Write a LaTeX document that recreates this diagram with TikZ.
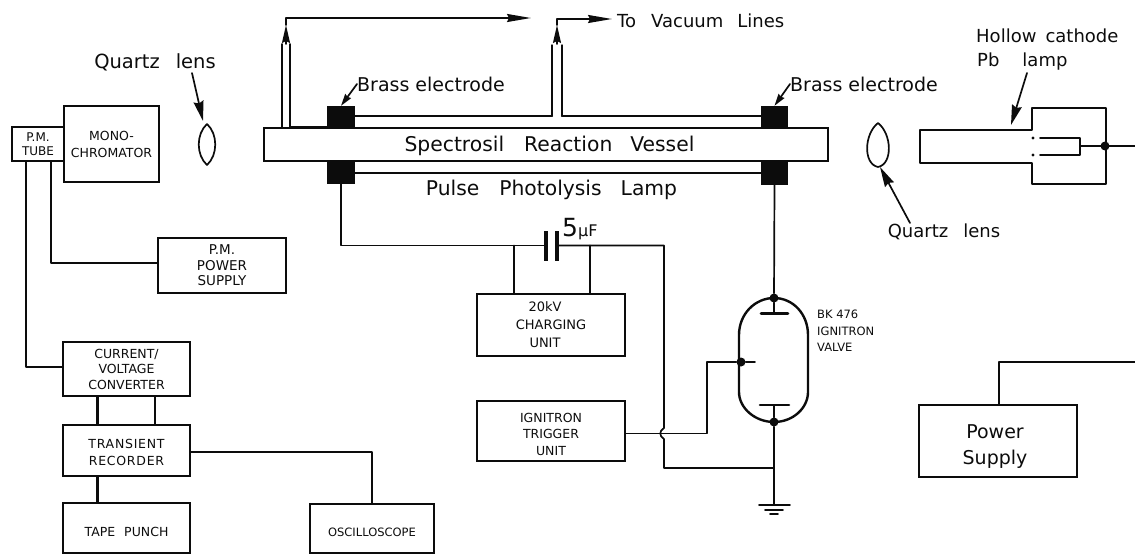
\documentclass[tikz,border=0pt]{standalone}
\usepackage{fontspec}
\setmainfont{DejaVu Sans}
\newfontfamily\wide[LetterSpace=6]{DejaVu Sans}
\usetikzlibrary{arrows.meta}
\definecolor{ink}{HTML}{0C0C0C}
\newcommand{\nudge}[2]{\raisebox{-#1}[\height][\depth]{#2}}
\tikzset{
  wire/.style={draw=ink,line width=1.7pt,line cap=round,line join=round},
  thick wire/.style={draw=ink,line width=3pt},
  unit/.style={draw=ink,line width=2.4pt,inner sep=0pt,align=center,text=ink,font=\fontsize{12}{15.5}\selectfont},
  electrode/.style={fill=ink,draw=none,inner sep=0pt},
  label/.style={inner sep=0pt,text=ink,font=\fontsize{18}{24}\selectfont,align=left},
  flow/.style={wire,-{Stealth[length=24pt,width=8pt,inset=2pt]}},
  rise/.style={wire,-{Stealth[length=18pt,width=8pt,inset=2pt]}},
  pointer/.style={wire,-{Stealth[length=20pt,width=10pt,inset=2pt]}},
  dot/.style={circle,fill=ink,inner sep=0pt,minimum size=9pt},
}
\begin{document}
\begin{tikzpicture}[x=1pt,y=-1pt]
\useasboundingbox (0,0) rectangle (1135,554);
% --- vessel and electrodes
\node[unit,minimum width=564pt,minimum height=33pt,font=\fontsize{20.3}{22}\selectfont] (vessel) at (546,144.5) {\nudge{1pt}{Spectrosil\hspace{20pt}Reaction\hspace{18pt}Vessel}\hspace*{-7pt}};
\node[electrode,minimum width=28pt,minimum height=22pt] (elTL) at (341,117) {};
\node[electrode,minimum width=28pt,minimum height=23pt] (elBL) at (341,172.5) {};
\node[electrode,minimum width=27pt,minimum height=22pt] (elTR) at (774.5,117) {};
\node[electrode,minimum width=27pt,minimum height=24pt] (elBR) at (774.5,173) {};
% --- lamp lines
\coordinate (tubeL) at (552,116);
\coordinate (tubeR) at (562,116);
\coordinate (tubeLtop) at (552,45);
\coordinate (tubeRtop) at (562,45);
\coordinate (lampLow) at (341,173);
\draw[wire,line width=2.2pt] (elTL.east |- tubeL) -- (tubeL);
\draw[wire,line width=2.2pt] (elTR.west |- tubeR) -- (tubeR);
\draw[wire,line width=1.4pt] (tubeL) -- (tubeLtop);
\draw[wire,line width=1.4pt] (tubeR) -- (tubeRtop);
\draw[wire,line width=2.2pt] (elBL.east |- lampLow) -- (elBR.west |- lampLow);
% --- left pump tube
\coordinate (ltL) at (282,127);
\coordinate (ltLtop) at (282,44);
\coordinate (ltR) at (290,127);
\coordinate (ltRtop) at (290,44);
\draw[wire] (ltL) -- (ltLtop);
\draw[wire] (ltR) -- (ltRtop);
\draw[wire] (ltR) -- (elTL.west |- ltR);
% --- vacuum arrows
\coordinate (a1s) at (286,44);
\coordinate (a1t) at (286,25);
\coordinate (a1c) at (286,18);
\coordinate (a1e) at (531,18);
\draw[rise] (a1s) -- (a1t);
\draw[flow] (a1t) -- (a1c) -- (a1e);
\coordinate (a2s) at (557,44);
\coordinate (a2t) at (557,25);
\coordinate (a2c) at (557,19);
\coordinate (a2e) at (612,19);
\draw[rise] (a2s) -- (a2t);
\draw[flow] (a2t) -- (a2c) -- (a2e);
\node[label,anchor=west] (vac) at (617,21) {To\hspace{15pt}Vacuum\hspace{14pt}Lines};
% --- electrode labels
\node[label,anchor=west,font=\fontsize{19}{24}\selectfont] (brassL) at (357,84) {Brass\hspace{6pt}electrode};
\node[label,anchor=west,font=\fontsize{19}{24}\selectfont] (brassR) at (790,84) {Brass\hspace{6pt}electrode};
\draw[wire,-{Stealth[length=12pt,width=7pt,inset=1pt]}] (brassL.west) -- (elTL.north);
\draw[wire,-{Stealth[length=12pt,width=7pt,inset=1pt]}] (brassR.west) -- (elTR.north);
\node[label,font=\fontsize{20.3}{24}\selectfont] (lampL) at (551.5,190) {Pulse\hspace{20pt}Photolysis\hspace{19pt}Lamp};
% --- left lens
\coordinate (lensAt) at (207,124);
\coordinate (lensAb) at (207,165);
\draw[wire] (lensAt) .. controls (196,134) and (196,155) .. (lensAb) .. controls (218,155) and (218,134) .. (lensAt);
\node[label,font=\fontsize{19.5}{24}\selectfont] (qlA) at (155,62) {Quartz\hspace{16pt}lens};
\coordinate (qlAs) at (192,73);
\draw[pointer] (qlAs) -- (203,121);
% --- right lens
\coordinate (lensBt) at (878,123);
\coordinate (lensBb) at (878,167);
\draw[wire] (lensBt) .. controls (864,134) and (863,164) .. (lensBb) .. controls (893,164) and (892,134) .. (lensBt);
\node[label] (qlB) at (944,232) {Quartz\hspace{15pt}lens};
\coordinate (qlBs) at (910,223);
\draw[pointer] (qlBs) -- (880,167);
% --- hollow cathode lamp
\draw[wire,line width=2.2pt] (1032,108) -- (1032,130) -- (920,130) -- (920,163) -- (1032,163) -- (1032,184) -- (1106,184) -- (1106,108) -- cycle;
\fill[ink] (1033,138) circle (1.6pt) (1033,155) circle (1.6pt);
\coordinate (cathode) at (1080,146);
\coordinate (lampPin) at (1105,146);
\coordinate (lampOut) at (1135,146);
\draw[wire] (1040,138) -- (1080,138) -- (1080,155) -- (1040,155);
\draw[wire] (cathode) -- (lampPin) -- (lampOut);
\node[dot] (pin) at (lampPin) {};
\node[label,anchor=west] (hollow) at (976,36) {Hollow\hspace{9pt}cathode};
\node[label,anchor=west] (pb) at (977,62) {Pb\hspace{23pt}lamp};
\coordinate (hcs) at (1027,73);
\draw[pointer] (hcs) -- (1011,125);
% --- power supply
\node[unit,minimum width=158pt,minimum height=72pt,line width=2.8pt,font=\fontsize{19}{26}\selectfont] (power) at (998,441) {\nudge{6pt}{Power}\hspace*{6pt}\\\nudge{6pt}{Supply}\hspace*{6pt}};
\coordinate (pwC) at (999,362);
\coordinate (pwE) at (1135,362);
\draw[wire] (power.north -| pwC) -- (pwC) -- (pwE);
% --- detection chain
\node[unit,minimum width=95pt,minimum height=76pt,line width=2pt,font=\fontsize{12.5}{17}\selectfont] (mono) at (111.5,144) {MONO-\\CHROMATOR};
\node[unit,minimum width=52pt,minimum height=34pt,fill=white,font=\fontsize{12}{13.5}\selectfont] (pm) at (38,144) {P.M.\\TUBE};
\node[unit,minimum width=128pt,minimum height=55pt,line width=2.8pt,font=\fontsize{13.5}{15.5}\selectfont] (pmps) at (222,265.5) {P.M.\\POWER\\SUPPLY};
\node[unit,minimum width=127pt,minimum height=54pt,line width=2.8pt,font=\fontsize{12.5}{15.5}\selectfont] (conv) at (126.5,369) {CURRENT/\\VOLTAGE\\CONVERTER};
\node[unit,minimum width=127pt,minimum height=51pt,line width=2.8pt,font=\wide\fontsize{12.5}{17}\selectfont] (trans) at (126.5,450.5) {\nudge{2pt}{TRANSIENT}\\\nudge{2pt}{RECORDER}};
\node[unit,minimum width=127pt,minimum height=50pt,line width=2.4pt,font=\fontsize{12.5}{15}\selectfont] (tape) at (126.5,528) {\nudge{4pt}{TAPE\hspace{9pt}PUNCH}};
\node[unit,minimum width=124pt,minimum height=49pt,line width=2.6pt,font=\fontsize{11.5}{13}\selectfont] (osc) at (372,528.5) {\nudge{4pt}{OSCILLOSCOPE}};
\coordinate (pmA) at (26,367);
\coordinate (pmB) at (51,263);
\draw[wire] (pm.south -| pmA) -- (pmA) -- (conv.west |- pmA);
\draw[wire] (pm.south -| pmB) -- (pmB) -- (pmps.west |- pmB);
\coordinate (cvA) at (97,400);
\coordinate (cvB) at (155,400);
\draw[thick wire] (conv.south -| cvA) -- (trans.north -| cvA);
\draw[wire] (conv.south -| cvB) -- (trans.north -| cvB);
\draw[thick wire] (trans.south -| cvA) -- (tape.north -| cvA);
\coordinate (oscBend) at (372,452);
\draw[wire] (trans.east |- oscBend) -- (oscBend) -- (osc.north);
% --- capacitor and pulse circuit
\coordinate (capL) at (546,245.5);
\coordinate (capR) at (557,245.5);
\coordinate (capE) at (664,245.5);
\coordinate (wireBend) at (341,245.5);
\draw[wire] (elBL.south -| wireBend) -- (wireBend) -- (capL);
\draw[line width=3.4pt,draw=ink] (546,231) -- (546,261);
\draw[line width=3.4pt,draw=ink] (557,231) -- (557,261);
\node[inner sep=0pt,text=ink,anchor=base west] (cap) at (562,236) {\fontsize{25}{25}\selectfont 5\fontsize{16}{16}\selectfont µF};
\node[unit,minimum width=148pt,minimum height=62pt,font=\fontsize{13}{18}\selectfont] (charge) at (551,325) {20kV\hspace*{12pt}\\CHARGING\hspace*{10pt}\\UNIT\hspace*{12pt}};
\node[unit,minimum width=148pt,minimum height=60pt,font=\fontsize{12.5}{16.5}\selectfont] (trig) at (551,431) {\nudge{3pt}{IGNITRON}\\\nudge{3pt}{TRIGGER}\\\nudge{3pt}{UNIT}};
\coordinate (chA) at (514,245.5);
\coordinate (chB) at (590,245.5);
\draw[wire] (chA) -- (charge.north -| chA);
\draw[wire] (chB) -- (charge.north -| chB);
\coordinate (jumpA) at (664,428);
\coordinate (jumpB) at (664,439);
\coordinate (retBend) at (664,468);
\coordinate (gndT) at (774,468);
\draw[wire] (capR) -- (capE) -- (jumpA) .. controls (659,431) and (659,436) .. (jumpB) -- (retBend) -- (gndT);
% --- ignitron
\coordinate (vTop) at (774,298);
\coordinate (vBot) at (774,422);
\coordinate (vGrid) at (741,362);
\draw[wire,line width=2.4pt] (vTop) .. controls (793,298) and (808,314) .. (808,335) -- (808,392) .. controls (808,408) and (793,422) .. (vBot) .. controls (755,422) and (739,408) .. (739,392) -- (739,335) .. controls (739,314) and (755,298) .. (vTop);
\node[dot] (dTop) at (vTop) {};
\node[dot] (dBot) at (vBot) {};
\node[dot] (dGrid) at (vGrid) {};
\draw[wire] (elBR.south) -- (dTop);
\draw[wire,line width=2pt] (dTop) -- (774,313);
\draw[wire,line width=2.6pt] (761,313.5) -- (788,313.5);
\draw[wire,line width=2.6pt] (760,405) -- (789,405);
\draw[wire,line width=2pt] (774,405) -- (dBot);
\draw[wire] (dGrid) -- (755,362);
\coordinate (gridBend) at (707,362);
\coordinate (trigBend) at (707,433.5);
\draw[wire] (dGrid) -- (gridBend) -- (trigBend) -- (trig.east |- trigBend);
\coordinate (gnd) at (774,505);
\draw[wire] (dBot) -- (gnd);
\draw[wire] (759,505) -- (790,505);
\draw[wire] (765,510) -- (783,510);
\draw[wire] (770,514) -- (778,514);
\node[inner sep=0pt,text=ink,anchor=north west,align=left,font=\fontsize{11.5}{16.5}\selectfont] (bk) at (817,310) {BK 476\\IGNITRON\\VALVE};
\end{tikzpicture}
\end{document}
